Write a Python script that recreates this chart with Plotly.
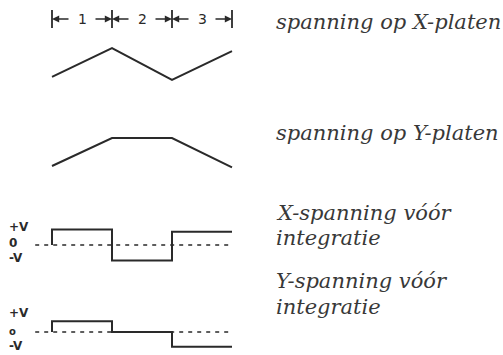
import plotly.graph_objects as go

# ── Data: time in ruler segments (0..3), voltages in units of V ──────────────
SEGMENT_TICKS = [0, 1, 2, 3]
SEGMENT_LABELS = ["1", "2", "3"]

T_RAMP = [0, 1, 2, 3]
X_PLATE = [-0.8, 1.0, -1.0, 0.8]          # triangle on X plates
Y_PLATE = [-1.0, 1.0, 1.0, -1.1]          # trapezoid on Y plates

T_STEP = [0, 0, 1, 2, 3]
X_SQUARE = [0, 1.0, -1.0, 0.85, 0.85]     # X voltage before integration
Y_SQUARE = [0, 0.8, 0.0, -1.1, -1.1]      # Y voltage before integration

ZERO_T = [-0.28, 3]

LEVEL_LABELS_X = ["+V", "0", "-V"]
LEVEL_POS_X = [1.16, 0.16, -0.84]
LEVEL_SIZE_X = [12, 12, 12]
LEVEL_LABELS_Y = ["+V", "o", "-V"]
LEVEL_POS_Y = [1.42, 0.07, -1.04]
LEVEL_SIZE_Y = [12, 10, 12]

CAPTIONS = ["spanning op X-platen", "spanning op Y-platen",
            "X-spanning vóór", "integratie", "Y-spanning vóór", "integratie"]
CAPTION_Y_PX = [22, 133, 213, 238, 281, 307]

INK = "#2a2a2a"
TEXT_INK = "#383838"
W, H = 503, 355
X0_PX, DT_PX = 52, 60     # pixel of t=0 and pixels per segment


def yrange(center_px, scale):
    """Axis range so that value 0 sits at center_px and 1 unit = scale px."""
    return [(center_px - H) / scale, center_px / scale]


fig = go.Figure()

# rows: ruler (y5), X plates (y), Y plates (y2), X square (y3), Y square (y4)
fig.add_trace(go.Scatter(x=T_RAMP, y=X_PLATE, mode="lines", yaxis="y",
                         line=dict(color=INK, width=2)))
fig.add_trace(go.Scatter(x=T_RAMP, y=Y_PLATE, mode="lines", yaxis="y2",
                         line=dict(color=INK, width=2)))

for ax, wave in (("y3", X_SQUARE), ("y4", Y_SQUARE)):
    fig.add_trace(go.Scatter(x=ZERO_T, y=[0, 0], mode="lines", yaxis=ax,
                             line=dict(color=INK, width=1.6, dash="4px,5px")))
    fig.add_trace(go.Scatter(x=T_STEP, y=wave, mode="lines", yaxis=ax,
                             line=dict(color=INK, width=2, shape="hv")))

# ruler ticks
tx, ty = [], []
for t in SEGMENT_TICKS:
    tx += [t, t, None]
    ty += [0.9, -0.9, None]
fig.add_trace(go.Scatter(x=tx, y=ty, mode="lines", yaxis="y5",
                         line=dict(color=INK, width=1.8)))

annotations = []
# ruler arrows and labels
for i, lab in enumerate(SEGMENT_LABELS):
    a, b = SEGMENT_TICKS[i], SEGMENT_TICKS[i + 1]
    mid = (a + b) / 2
    for head, tail in ((a, mid - 0.2), (b, mid + 0.2)):
        annotations.append(dict(x=head, y=0, ax=tail, ay=0, xref="x", yref="y5",
                                axref="x", ayref="y5", text="", showarrow=True,
                                arrowhead=2, arrowsize=0.9, arrowwidth=1.6,
                                arrowcolor=INK))
    annotations.append(dict(x=mid, y=0, xref="x", yref="y5", text=lab,
                            showarrow=False,
                            font=dict(family="DejaVu Sans", size=14, color=INK)))

# level labels
for labels, pos, sizes, ax in ((LEVEL_LABELS_X, LEVEL_POS_X, LEVEL_SIZE_X, "y3"),
                               (LEVEL_LABELS_Y, LEVEL_POS_Y, LEVEL_SIZE_Y, "y4")):
    for lab, v, sz in zip(labels, pos, sizes):
        annotations.append(dict(x=-0.75, y=v, xref="x", yref=ax, text=lab,
                                showarrow=False, xanchor="left",
                                font=dict(family="DejaVu Sans", size=sz,
                                          color=INK, weight="bold")))

# captions
for txt, ypx in zip(CAPTIONS, CAPTION_Y_PX):
    annotations.append(dict(x=274 / W, y=1 - ypx / H, xref="paper", yref="paper",
                            text=txt, showarrow=False, xanchor="left",
                            yanchor="middle",
                            font=dict(family="DejaVu Serif", size=21,
                                      style="italic", color=TEXT_INK)))

hidden = dict(visible=False, fixedrange=True)
fig.update_layout(
    width=W, height=H,
    margin=dict(l=0, r=0, t=0, b=0),
    paper_bgcolor="white", plot_bgcolor="white",
    showlegend=False,
    xaxis=dict(range=[-X0_PX / DT_PX, (W - X0_PX) / DT_PX], **hidden),
    yaxis=dict(range=yrange(64, 16), **hidden),
    yaxis2=dict(range=yrange(152, 14), overlaying="y", **hidden),
    yaxis3=dict(range=yrange(245, 15.5), overlaying="y", **hidden),
    yaxis4=dict(range=yrange(332, 13.5), overlaying="y", **hidden),
    yaxis5=dict(range=yrange(19, 10), overlaying="y", **hidden),
    annotations=annotations,
)

# drop the browser's default 8px body margin so the figure fills the window
fig.write_html("out.html", config={"displayModeBar": False},
               post_script="document.body.style.margin='0';")
